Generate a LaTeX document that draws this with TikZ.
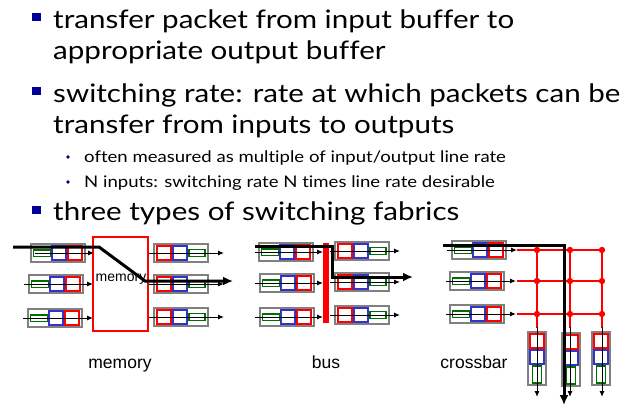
\documentclass[tikz,border=0pt]{standalone}
\usepackage{fontspec}
\setmainfont{Lato}[FakeStretch=1.16, Ligatures=NoCommon]
\newfontfamily\arialfont{Liberation Sans}
\usetikzlibrary{arrows.meta}
\definecolor{navy}{RGB}{0,0,153}
\definecolor{bufgray}{RGB}{128,128,128}
\definecolor{bufblue}{RGB}{51,51,204}
\definecolor{bufgreen}{RGB}{0,110,0}
\tikzset{
  main/.style={anchor=base west, inner sep=0pt, font=\fontsize{25.5}{25.5}\selectfont},
  sub/.style={anchor=base west, inner sep=0pt, font=\fontsize{16}{16}\selectfont},
  lbl/.style={anchor=base, inner sep=0pt, font=\arialfont\fontsize{17.5}{17.5}\selectfont},
  gbox/.style={draw=bufgray, line width=1.6pt, fill=white},
  rbox/.style={draw=red, line width=1.3pt},
  bbox/.style={draw=bufblue, line width=1.3pt},
  gnbox/.style={draw=bufgreen, line width=1.3pt},
  thin/.style={line width=1pt, -{Latex[length=6pt,width=5pt]}},
  thick/.style={line width=3pt, -{Latex[length=10pt,width=9pt]}},
  redline/.style={draw=red, line width=2.2pt},
  pics/inbuf/.style={code={
    \draw[gbox] (0,0) rectangle (54,18);
    \draw[gnbox] (2.5,6) rectangle (19.5,12.5);
    \draw[bbox] (21,2) rectangle (35,16);
    \draw[rbox] (37,2) rectangle (51,16);
  }},
  pics/outbuf/.style={code={
    \draw[gbox] (0,0) rectangle (54,18);
    \draw[rbox] (3,2) rectangle (17,16);
    \draw[bbox] (19,2) rectangle (33,16);
    \draw[gnbox] (35,5.5) rectangle (51,12.5);
  }},
  pics/vbuf/.style={code={
    \draw[gbox] (0,0) rectangle (18,53);
    \draw[rbox] (2,2) rectangle (16,16);
    \draw[bbox] (2,18) rectangle (16,32);
    \draw[gnbox] (4.5,34) rectangle (13.5,51);
  }},
}
\begin{document}
\begin{tikzpicture}[x=1pt,y=-1pt]
\useasboundingbox (0,0) rectangle (641,410);
% ---- text ----
\fill[navy] (32,13) rectangle (41,21);
\node[main] (t1) at (53,28) {transfer packet from input buffer to};
\node[main] (t2) at (53,59) {appropriate output buffer};
\fill[navy] (32,87) rectangle (41,95);
\node[main] (t3) at (53,102) {switching rate: rate at which packets can be};
\node[main] (t4) at (53,133) {transfer from inputs to outputs};
\fill[navy] (68,157) circle (1.8);
\node[sub] (s1) at (84,162) {often measured as multiple of input/output line rate};
\fill[navy] (68,182) circle (1.8);
\node[sub] (s2) at (84,187) {N inputs: switching rate N times line rate desirable};
\fill[navy] (32,206) rectangle (41,214);
\node[main] (t5) at (53,220) {three types of switching fabrics};

% ---- memory ----
\pic at (31,244) {inbuf};
\pic at (29,275) {inbuf};
\pic at (28,309) {inbuf};
\coordinate (mi1) at (35,253); \coordinate (mi1e) at (94,253);
\coordinate (mi2) at (24,284); \coordinate (mi2e) at (93,284);
\coordinate (mi3) at (23,318); \coordinate (mi3e) at (93,318);
\draw[thin] (mi1) -- (mi1e);
\draw[thin] (mi2) -- (mi2e);
\draw[thin] (mi3) -- (mi3e);
\draw[draw=red, line width=2pt] (93,237) rectangle (148,331);
\node[anchor=base, inner sep=0pt, font=\arialfont\fontsize{14}{14}\selectfont] (memin) at (121,281) {memory};
\pic at (154,244) {outbuf};
\pic at (154,275) {outbuf};
\pic at (154,308) {outbuf};
\coordinate (mo1) at (149,253); \coordinate (mo1e) at (224,253);
\coordinate (mo2) at (149,284); \coordinate (mo2e) at (224,284);
\coordinate (mo3) at (149,317); \coordinate (mo3e) at (224,317);
\draw[thin] (mo1) -- (mo1e);
\draw[thin] (mo2) -- (mo2e);
\draw[thin] (mo3) -- (mo3e);
\coordinate (mth0) at (13,247); \coordinate (mth1) at (99,247);
\coordinate (mth2) at (145,281); \coordinate (mth3) at (233,281);
\draw[thick] (mth0) -- (mth1) -- (mth2) -- (mth3);
\node[lbl] (lmem) at (120,368) {memory};

% ---- bus ----
\pic at (259,243) {inbuf};
\pic at (260,274) {inbuf};
\pic at (260,308) {inbuf};
\coordinate (bi1) at (255,252); \coordinate (bi1e) at (323,252);
\coordinate (bi2) at (255,283); \coordinate (bi2e) at (323,283);
\coordinate (bi3) at (255,317); \coordinate (bi3e) at (323,317);
\draw[thin] (bi1) -- (bi1e);
\draw[thin] (bi2) -- (bi2e);
\draw[thin] (bi3) -- (bi3e);
\fill[red] (323,243) rectangle (329,323);
\pic at (335,242) {outbuf};
\pic at (335,273) {outbuf};
\pic at (335,306) {outbuf};
\coordinate (bo1) at (330,251); \coordinate (bo1e) at (400,251);
\coordinate (bo2) at (330,282); \coordinate (bo2e) at (400,282);
\coordinate (bo3) at (330,315); \coordinate (bo3e) at (400,315);
\draw[thin] (bo1) -- (bo1e);
\draw[thin] (bo2) -- (bo2e);
\draw[thin] (bo3) -- (bo3e);
\coordinate (bth0) at (255,246); \coordinate (bth1) at (332,246);
\coordinate (bth2) at (332,277); \coordinate (bth3) at (413,277);
\draw[thick] (bth0) -- (bth1) -- (bth2) -- (bth3);
\node[lbl] (lbus) at (326,368) {bus};

% ---- crossbar ----
\pic at (452,241) {inbuf};
\pic at (450,272) {inbuf};
\pic at (450,305) {inbuf};
\coordinate (ci1) at (447,250); \coordinate (ci1e) at (517,250);
\coordinate (ci2) at (446,281); \coordinate (ci2e) at (516,281);
\coordinate (ci3) at (446,314); \coordinate (ci3e) at (516,314);
\foreach \y in {250,281,314} {\draw[redline] (517,\y) -- (602,\y);}
\foreach \x in {537,570,602} {\draw[redline] (\x,250) -- (\x,328);}
\foreach \x in {537,570,602} {\foreach \y in {250,281,314} {\fill[red] (\x,\y) circle (3.2);}}
\draw[thin] (ci1) -- (ci1e);
\draw[thin] (ci2) -- (ci2e);
\draw[thin] (ci3) -- (ci3e);
\pic at (528,332) {vbuf};
\pic at (562,333) {vbuf};
\pic at (592,332) {vbuf};
\coordinate (co1) at (537,327); \coordinate (co1e) at (537,397);
\coordinate (co2) at (570,327); \coordinate (co2e) at (570,397);
\coordinate (co3) at (602,327); \coordinate (co3e) at (602,397);
\draw[thin] (co1) -- (co1e);
\draw[thin] (co2) -- (co2e);
\draw[thin] (co3) -- (co3e);
\coordinate (cth0) at (443,245); \coordinate (cth1) at (564,245);
\coordinate (cth2) at (564,405);
\draw[thick] (cth0) -- (cth1) -- (cth2);
\node[lbl] (lcb) at (474,368) {crossbar};
\end{tikzpicture}
\end{document}
